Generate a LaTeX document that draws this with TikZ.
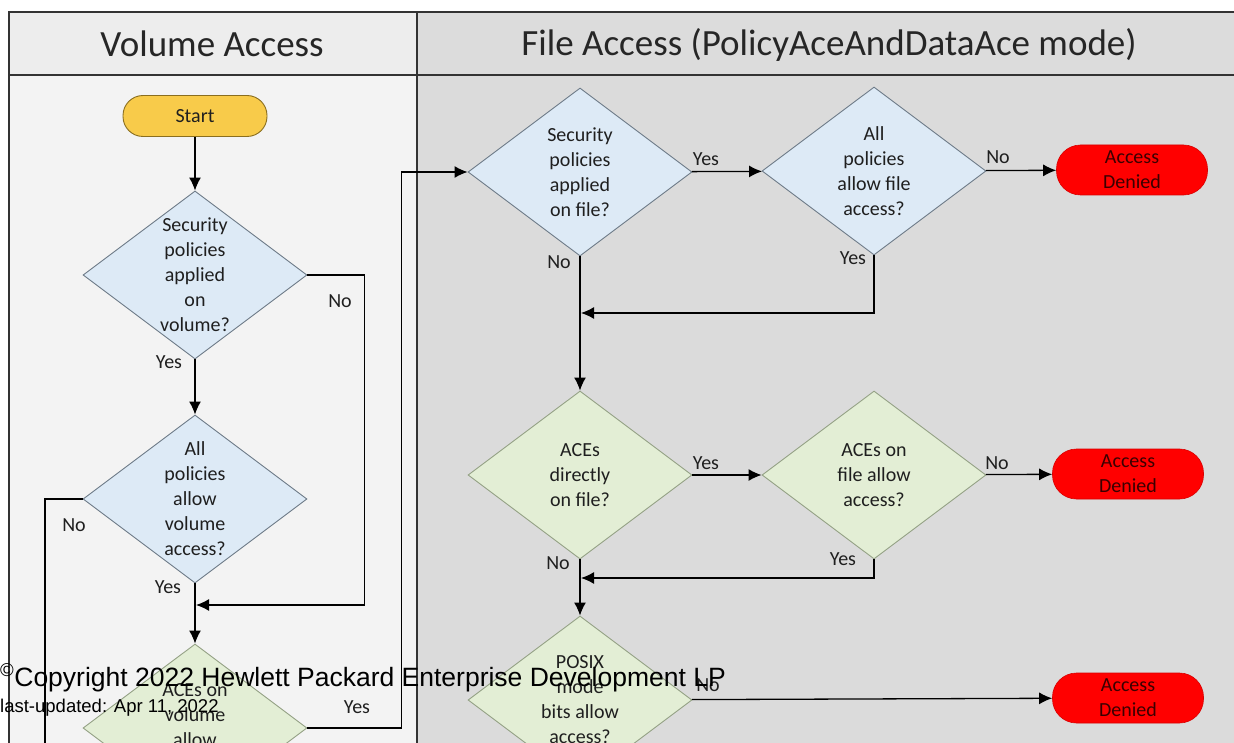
\documentclass[tikz,border=0pt]{standalone}
\usepackage{fontspec}
\setmainfont{Carlito}
\newfontfamily\arialfont{Liberation Sans}
\usetikzlibrary{shapes.geometric,arrows.meta}

\definecolor{headleft}{HTML}{EDEDED}
\definecolor{laneleft}{HTML}{F3F3F3}
\definecolor{headright}{HTML}{DCDCDC}
\definecolor{laneright}{HTML}{DBDBDB}
\definecolor{polblue}{HTML}{DDEAF6}
\definecolor{polblueline}{HTML}{6F7C89}
\definecolor{acegreen}{HTML}{E3EED5}
\definecolor{acegreenline}{HTML}{95A286}
\definecolor{startyellow}{HTML}{F8CB4A}
\definecolor{startline}{HTML}{8A6E1F}
\definecolor{denytext}{HTML}{3A0000}

\begin{document}
\begin{tikzpicture}[x=1pt,y=-1pt,
	every node/.style={font=\fontsize{20}{25}\selectfont,text=black!88},
	lanetitle/.style={anchor=base,font=\fontsize{37}{40}\selectfont,text=black!85},
	frame/.style={draw=black!80,line width=1.6pt},
	decision/.style={diamond,draw=polblueline,fill=polblue,line width=0.9pt,minimum width=224pt,minimum height=168pt,inner sep=0pt},
	acecheck/.style={decision,draw=acegreenline,fill=acegreen},
	startbox/.style={rectangle,rounded corners=20pt,draw=startline,fill=startyellow,line width=0.9pt,minimum width=144pt,minimum height=41pt},
	denybox/.style={rectangle,rounded corners=24pt,draw=red!85!black,fill=red,line width=0.6pt,minimum width=151pt,minimum height=50pt,align=center,text=denytext},
	answer/.style={inner sep=1pt},
	line/.style={draw=black,line width=1.3pt},
	flow/.style={line,-{Latex[length=13pt,width=12pt]}}]

	% lanes
	\useasboundingbox (0,0) rectangle (1234,743);
	\fill[white] (0,0) rectangle (1234,743);
	\fill[headleft] (9,12) rectangle (417,75);
	\fill[laneleft] (9,75) rectangle (417,743);
	\fill[headright] (417,12) rectangle (1234,75);
	\fill[laneright] (417,75) rectangle (1234,743);
	\draw[frame] (1234,12) -- (9,12) -- (9,743);
	\draw[frame] (9,75) -- (1234,75);
	\draw[frame] (417,12) -- (417,743);
	\node[lanetitle] (voltitle) at (212,57) {Volume Access};
	\node[lanetitle] (filetitle) at (829,56) {File Access (PolicyAceAndDataAce mode)};

	% volume access
	\node[startbox] (start) at (195,116) {Start};
	\node[decision,label={[align=center]center:Security\\policies\\applied\\on\\volume?}] (d1) at (195,275) {};
	\node[decision,label={[align=center]center:All\\policies\\allow\\volume\\access?}] (d2) at (195,499) {};
	\node[acecheck,label={[align=center,yshift=13pt]center:ACEs on\\volume\\allow}] (d3) at (195,728) {};

	% file access
	\node[decision,label={[align=center]center:Security\\policies\\applied\\on file?}] (d4) at (580,172) {};
	\node[decision,label={[align=center]center:All\\policies\\allow file\\access?}] (d5) at (874,171) {};
	\node[denybox] (deny1) at (1132,170) {Access\\Denied};
	\node[acecheck,label={[align=center]center:ACEs\\directly\\on file?}] (d6) at (580,475) {};
	\node[acecheck,label={[align=center]center:ACEs on\\file allow\\access?}] (d7) at (874,475) {};
	\node[denybox] (deny2) at (1128,474) {Access\\Denied};
	\node[acecheck,label={[align=center]center:POSIX\\mode\\bits allow\\access?}] (d8) at (580,700) {};
	\node[denybox] (deny3) at (1128,698) {Access\\Denied};

	\coordinate (j1) at (196,605);
	\coordinate (j2) at (581,313);
	\coordinate (j3) at (581,578);
	\coordinate (offl) at (45,743);

	\draw[flow] (start) -- (d1);
	\draw[flow] (d1) -- (d2);
	\draw[flow] (d1.east) -- ++(57,0) |- (j1);
	\draw[flow] (d2) -- (d3);
	\draw[line] (d2.west) -| (offl);
	\draw[flow] (d3.east) -- ++(94,0) |- (d4.west);
	\draw[flow] (d4) -- (d5);
	\draw[flow] (d5) -- (deny1);
	\draw[flow] (d5.south) |- (j2);
	\draw[flow] (d4) -- (d6);
	\draw[flow] (d6) -- (d7);
	\draw[flow] (d7) -- (deny2);
	\draw[flow] (d7.south) |- (j3);
	\draw[flow] (d6) -- (d8);
	\draw[flow] (d8) -- (deny3);

	\node[answer] (d1no) at (340,301) {No};
	\node[answer] (d1yes) at (169,362) {Yes};
	\node[answer] (d2no) at (74,525) {No};
	\node[answer] (d2yes) at (168,587) {Yes};
	\node[answer] (d3yes) at (357,707) {Yes};
	\node[answer] (d4yes) at (706,159) {Yes};
	\node[answer] (d4no) at (559,262) {No};
	\node[answer] (d5no) at (998,157) {No};
	\node[answer] (d5yes) at (853,258) {Yes};
	\node[answer] (d6yes) at (706,463) {Yes};
	\node[answer] (d6no) at (558,563) {No};
	\node[answer] (d7no) at (997,463) {No};
	\node[answer] (d7yes) at (843,559) {Yes};
	\node[answer] (d8no) at (708,685) {No};

	% copyright overlay
	\node[anchor=base west,inner sep=0pt,text=black,font=\arialfont\fontsize{26.5}{30}\selectfont] (copyline) at (0,686) {\textsuperscript{©}Copyright 2022 Hewlett Packard Enterprise Development LP};
	\node[anchor=base west,inner sep=0pt,text=black,font=\arialfont\fontsize{18.5}{20}\selectfont] (dateline) at (0,712) {last-updated: Apr 11, 2022};
\end{tikzpicture}
\end{document}
